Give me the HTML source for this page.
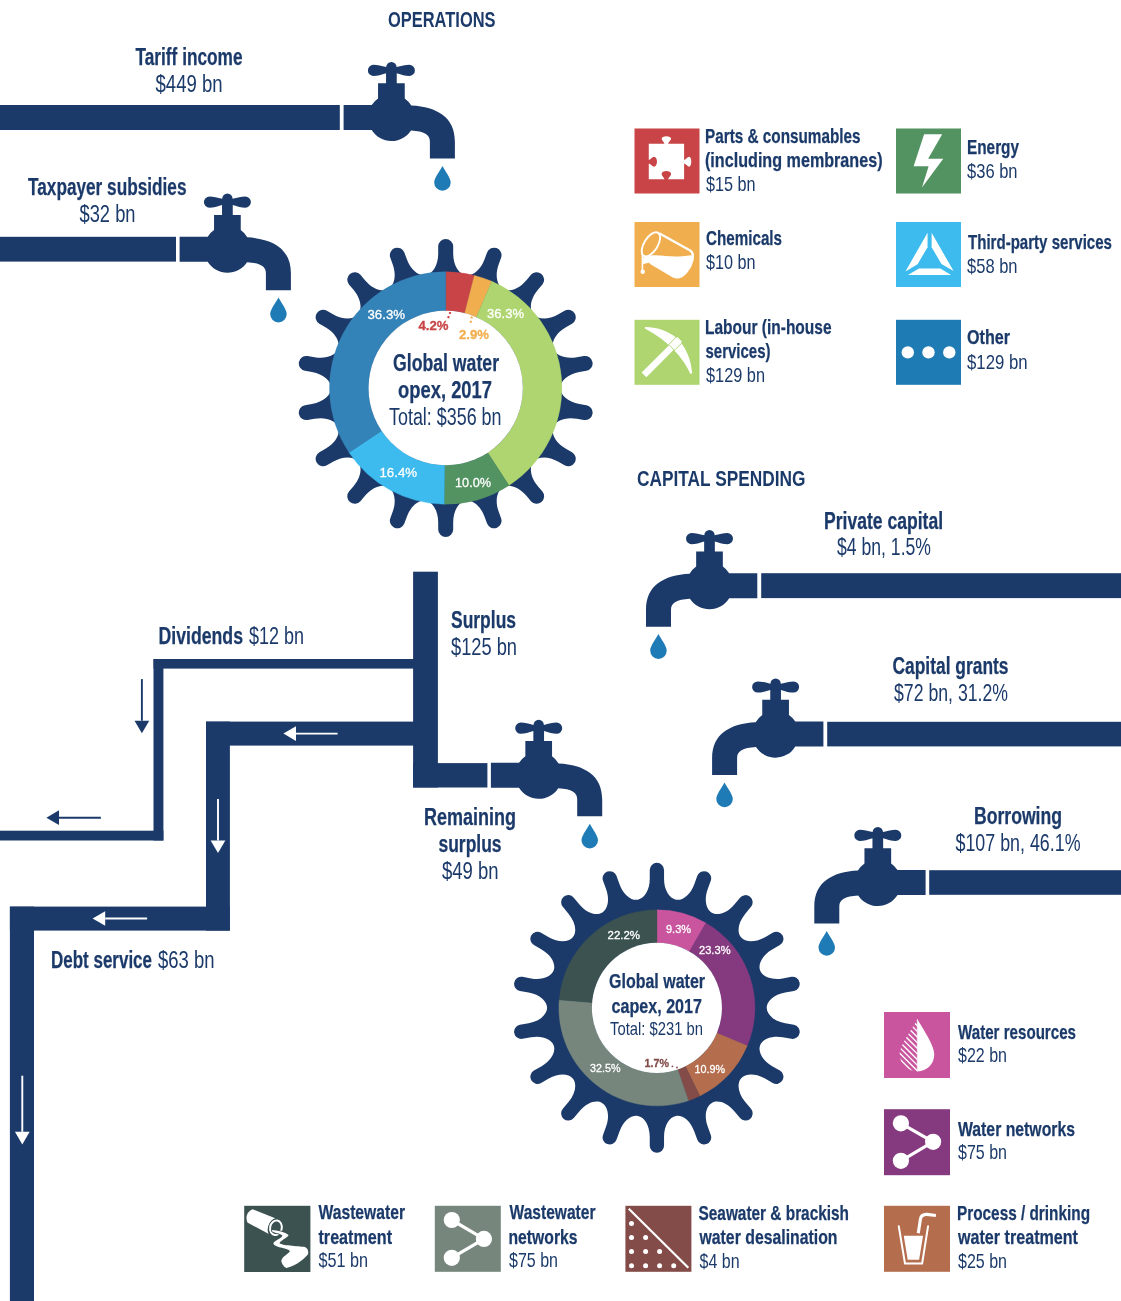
<!DOCTYPE html>
<html lang="en"><head><meta charset="utf-8"><title>Global water opex and capex, 2017</title>
<style>
html,body{margin:0;padding:0;background:#fff;}
body{width:1121px;height:1301px;overflow:hidden;}
svg{display:block;font-family:"Liberation Sans",sans-serif;will-change:transform;}
text{white-space:pre;}
</style></head><body>
<svg width="1121" height="1301" viewBox="0 0 1121 1301">
<rect width="1121" height="1301" fill="#fff"/>
<rect x="0" y="105" width="339.8" height="25" fill="#1b3a6a"/>
<rect x="0" y="236.8" width="176" height="24.8" fill="#1b3a6a"/>
<rect x="761.2" y="573.2" width="360" height="24.9" fill="#1b3a6a"/>
<rect x="827.2" y="721.8" width="294" height="24.6" fill="#1b3a6a"/>
<rect x="929.2" y="870.2" width="192" height="24.6" fill="#1b3a6a"/>
<rect x="413.1" y="571.7" width="24.8" height="215.8" fill="#1b3a6a"/>
<rect x="413.1" y="763.1" width="74.3" height="24.4" fill="#1b3a6a"/>
<rect x="153.5" y="659" width="262" height="9.6" fill="#1b3a6a"/>
<rect x="153.5" y="659" width="9.9" height="181.5" fill="#1b3a6a"/>
<rect x="0" y="830.7" width="163.4" height="9.8" fill="#1b3a6a"/>
<rect x="206" y="721.6" width="209" height="24" fill="#1b3a6a"/>
<rect x="206" y="721.6" width="23.9" height="209" fill="#1b3a6a"/>
<rect x="9.9" y="906.6" width="219.9" height="24" fill="#1b3a6a"/>
<rect x="9.9" y="906.6" width="24.1" height="400" fill="#1b3a6a"/>
<path d="M141.9,679.1L141.9,720.7" stroke="#1b3a6a" stroke-width="1.9" fill="none"/>
<path d="M141.9,733.3L134.55,720.7L149.25,720.7Z" fill="#1b3a6a"/>
<path d="M100.9,817.7L59,817.7" stroke="#1b3a6a" stroke-width="1.9" fill="none"/>
<path d="M46.4,817.7L59,810.35L59,825.05Z" fill="#1b3a6a"/>
<path d="M218,799L218,840.4" stroke="#fff" stroke-width="1.9" fill="none"/>
<path d="M218,853L210.65,840.4L225.35,840.4Z" fill="#fff"/>
<path d="M337.6,733.6L296,733.6" stroke="#fff" stroke-width="1.9" fill="none"/>
<path d="M283.4,733.6L296,726.25L296,740.95Z" fill="#fff"/>
<path d="M147.1,918.5L105.2,918.5" stroke="#fff" stroke-width="1.9" fill="none"/>
<path d="M92.6,918.5L105.2,911.15L105.2,925.85Z" fill="#fff"/>
<path d="M22.3,1075.7L22.3,1131.8" stroke="#fff" stroke-width="1.9" fill="none"/>
<path d="M22.3,1144.4L14.95,1131.8L29.65,1131.8Z" fill="#fff"/>
<g transform="translate(391.4,117.5)"><path d="M-47.8,-12.5 L-19.7,-12.5 A23.3,23.3 0 0 1 -13.35,-19.1 L-13.35,-34.3 L-5.35,-34.3 L-5.35,-44.2 C-10,-42.7 -14,-41.5 -17.9,-41.5 A5.6,5.6 0 0 1 -17.9,-52.7 C-14,-52.7 -10,-51.4 -5.2,-50.4 A5.2,5.2 0 0 1 5.2,-50.4 C10,-51.4 14,-52.7 17.9,-52.7 A5.6,5.6 0 0 1 17.9,-41.5 C14,-41.5 10,-42.7 5.35,-44.2 L5.35,-34.3 L13.35,-34.3 L13.35,-19.1 A23.3,23.3 0 0 1 19.9,-11.9 C46,-10.5 63.5,0 63.5,24 L63.5,41 L38.5,41 L38.5,24 C38.5,17 33,13.8 19.6,13.0 A23.3,23.3 0 0 1 -19.7,12.5 L-47.8,12.5 Z" fill="#1b3a6a"/><path d="M51.1,48.4 C54.3,54.5 59.3,60.4 59.3,64.9 A8.25,8.3 0 1 1 42.8,64.9 C42.8,60.4 47.8,54.5 51.1,48.4 Z" fill="#1f7bb5"/></g>
<g transform="translate(227.4,249.2)"><path d="M-47.8,-12.5 L-19.7,-12.5 A23.3,23.3 0 0 1 -13.35,-19.1 L-13.35,-34.3 L-5.35,-34.3 L-5.35,-44.2 C-10,-42.7 -14,-41.5 -17.9,-41.5 A5.6,5.6 0 0 1 -17.9,-52.7 C-14,-52.7 -10,-51.4 -5.2,-50.4 A5.2,5.2 0 0 1 5.2,-50.4 C10,-51.4 14,-52.7 17.9,-52.7 A5.6,5.6 0 0 1 17.9,-41.5 C14,-41.5 10,-42.7 5.35,-44.2 L5.35,-34.3 L13.35,-34.3 L13.35,-19.1 A23.3,23.3 0 0 1 19.9,-11.9 C46,-10.5 63.5,0 63.5,24 L63.5,41 L38.5,41 L38.5,24 C38.5,17 33,13.8 19.6,13.0 A23.3,23.3 0 0 1 -19.7,12.5 L-47.8,12.5 Z" fill="#1b3a6a"/><path d="M51.1,48.4 C54.3,54.5 59.3,60.4 59.3,64.9 A8.25,8.3 0 1 1 42.8,64.9 C42.8,60.4 47.8,54.5 51.1,48.4 Z" fill="#1f7bb5"/></g>
<g transform="translate(538.7,775.3)"><path d="M-47.8,-12.5 L-19.7,-12.5 A23.3,23.3 0 0 1 -13.35,-19.1 L-13.35,-34.3 L-5.35,-34.3 L-5.35,-44.2 C-10,-42.7 -14,-41.5 -17.9,-41.5 A5.6,5.6 0 0 1 -17.9,-52.7 C-14,-52.7 -10,-51.4 -5.2,-50.4 A5.2,5.2 0 0 1 5.2,-50.4 C10,-51.4 14,-52.7 17.9,-52.7 A5.6,5.6 0 0 1 17.9,-41.5 C14,-41.5 10,-42.7 5.35,-44.2 L5.35,-34.3 L13.35,-34.3 L13.35,-19.1 A23.3,23.3 0 0 1 19.9,-11.9 C46,-10.5 63.5,0 63.5,24 L63.5,41 L38.5,41 L38.5,24 C38.5,17 33,13.8 19.6,13.0 A23.3,23.3 0 0 1 -19.7,12.5 L-47.8,12.5 Z" fill="#1b3a6a"/><path d="M51.1,48.4 C54.3,54.5 59.3,60.4 59.3,64.9 A8.25,8.3 0 1 1 42.8,64.9 C42.8,60.4 47.8,54.5 51.1,48.4 Z" fill="#1f7bb5"/></g>
<g transform="translate(709.5,585.7) scale(-1,1)"><path d="M-47.8,-12.5 L-19.7,-12.5 A23.3,23.3 0 0 1 -13.35,-19.1 L-13.35,-34.3 L-5.35,-34.3 L-5.35,-44.2 C-10,-42.7 -14,-41.5 -17.9,-41.5 A5.6,5.6 0 0 1 -17.9,-52.7 C-14,-52.7 -10,-51.4 -5.2,-50.4 A5.2,5.2 0 0 1 5.2,-50.4 C10,-51.4 14,-52.7 17.9,-52.7 A5.6,5.6 0 0 1 17.9,-41.5 C14,-41.5 10,-42.7 5.35,-44.2 L5.35,-34.3 L13.35,-34.3 L13.35,-19.1 A23.3,23.3 0 0 1 19.9,-11.9 C46,-10.5 63.5,0 63.5,24 L63.5,41 L38.5,41 L38.5,24 C38.5,17 33,13.8 19.6,13.0 A23.3,23.3 0 0 1 -19.7,12.5 L-47.8,12.5 Z" fill="#1b3a6a"/><path d="M51.1,48.4 C54.3,54.5 59.3,60.4 59.3,64.9 A8.25,8.3 0 1 1 42.8,64.9 C42.8,60.4 47.8,54.5 51.1,48.4 Z" fill="#1f7bb5"/></g>
<g transform="translate(775.6,734.1) scale(-1,1)"><path d="M-47.8,-12.5 L-19.7,-12.5 A23.3,23.3 0 0 1 -13.35,-19.1 L-13.35,-34.3 L-5.35,-34.3 L-5.35,-44.2 C-10,-42.7 -14,-41.5 -17.9,-41.5 A5.6,5.6 0 0 1 -17.9,-52.7 C-14,-52.7 -10,-51.4 -5.2,-50.4 A5.2,5.2 0 0 1 5.2,-50.4 C10,-51.4 14,-52.7 17.9,-52.7 A5.6,5.6 0 0 1 17.9,-41.5 C14,-41.5 10,-42.7 5.35,-44.2 L5.35,-34.3 L13.35,-34.3 L13.35,-19.1 A23.3,23.3 0 0 1 19.9,-11.9 C46,-10.5 63.5,0 63.5,24 L63.5,41 L38.5,41 L38.5,24 C38.5,17 33,13.8 19.6,13.0 A23.3,23.3 0 0 1 -19.7,12.5 L-47.8,12.5 Z" fill="#1b3a6a"/><path d="M51.1,48.4 C54.3,54.5 59.3,60.4 59.3,64.9 A8.25,8.3 0 1 1 42.8,64.9 C42.8,60.4 47.8,54.5 51.1,48.4 Z" fill="#1f7bb5"/></g>
<g transform="translate(877.8,882.5) scale(-1,1)"><path d="M-47.8,-12.5 L-19.7,-12.5 A23.3,23.3 0 0 1 -13.35,-19.1 L-13.35,-34.3 L-5.35,-34.3 L-5.35,-44.2 C-10,-42.7 -14,-41.5 -17.9,-41.5 A5.6,5.6 0 0 1 -17.9,-52.7 C-14,-52.7 -10,-51.4 -5.2,-50.4 A5.2,5.2 0 0 1 5.2,-50.4 C10,-51.4 14,-52.7 17.9,-52.7 A5.6,5.6 0 0 1 17.9,-41.5 C14,-41.5 10,-42.7 5.35,-44.2 L5.35,-34.3 L13.35,-34.3 L13.35,-19.1 A23.3,23.3 0 0 1 19.9,-11.9 C46,-10.5 63.5,0 63.5,24 L63.5,41 L38.5,41 L38.5,24 C38.5,17 33,13.8 19.6,13.0 A23.3,23.3 0 0 1 -19.7,12.5 L-47.8,12.5 Z" fill="#1b3a6a"/><path d="M51.1,48.4 C54.3,54.5 59.3,60.4 59.3,64.9 A8.25,8.3 0 1 1 42.8,64.9 C42.8,60.4 47.8,54.5 51.1,48.4 Z" fill="#1f7bb5"/></g>
<path d="M425.82,275.24C432.55,274.05 438.2,265.51 438.2,253.5L438.2,246.45A7.5,7.5 0 0 1 453.2,246.45L453.2,253.5C453.2,265.51 458.85,274.05 465.58,275.24C472.32,276.43 480.55,270.33 484.65,259.05L487.07,252.42A7.5,7.5 0 0 1 501.16,257.55L498.75,264.18C494.64,275.46 497.03,285.42 502.95,288.84C508.87,292.26 518.69,289.34 526.41,280.15L530.94,274.75A7.5,7.5 0 0 1 542.43,284.39L537.9,289.79C530.18,298.99 529.02,309.16 533.41,314.4C537.81,319.64 548.03,320.26 558.43,314.25L564.54,310.73A7.5,7.5 0 0 1 572.04,323.72L565.93,327.25C555.53,333.25 550.96,342.41 553.29,348.84C555.63,355.27 565.03,359.34 576.85,357.26L583.8,356.03A7.5,7.5 0 0 1 586.4,370.81L579.46,372.03C567.63,374.12 560.2,381.16 560.2,388C560.2,394.84 567.63,401.88 579.46,403.97L586.4,405.19A7.5,7.5 0 0 1 583.8,419.97L576.85,418.74C565.03,416.66 555.63,420.73 553.29,427.16C550.96,433.59 555.53,442.75 565.93,448.75L572.04,452.28A7.5,7.5 0 0 1 564.54,465.27L558.43,461.75C548.03,455.74 537.81,456.36 533.41,461.6C529.02,466.84 530.18,477.01 537.9,486.21L542.43,491.61A7.5,7.5 0 0 1 530.94,501.25L526.41,495.85C518.69,486.66 508.87,483.74 502.95,487.16C497.03,490.58 494.64,500.54 498.75,511.82L501.16,518.45A7.5,7.5 0 0 1 487.07,523.58L484.65,516.95C480.55,505.67 472.32,499.57 465.58,500.76C458.85,501.95 453.2,510.49 453.2,522.5L453.2,529.55A7.5,7.5 0 0 1 438.2,529.55L438.2,522.5C438.2,510.49 432.55,501.95 425.82,500.76C419.08,499.57 410.85,505.67 406.75,516.95L404.33,523.58A7.5,7.5 0 0 1 390.24,518.45L392.65,511.82C396.76,500.54 394.37,490.58 388.45,487.16C382.53,483.74 372.71,486.66 364.99,495.85L360.46,501.25A7.5,7.5 0 0 1 348.97,491.61L353.5,486.21C361.22,477.01 362.38,466.84 357.99,461.6C353.59,456.36 343.37,455.74 332.97,461.75L326.86,465.27A7.5,7.5 0 0 1 319.36,452.28L325.47,448.75C335.87,442.75 340.44,433.59 338.11,427.16C335.77,420.73 326.37,416.66 314.55,418.74L307.6,419.97A7.5,7.5 0 0 1 305,405.19L311.94,403.97C323.77,401.88 331.2,394.84 331.2,388C331.2,381.16 323.77,374.12 311.94,372.03L305,370.81A7.5,7.5 0 0 1 307.6,356.03L314.55,357.26C326.37,359.34 335.77,355.27 338.11,348.84C340.44,342.41 335.87,333.25 325.47,327.25L319.36,323.72A7.5,7.5 0 0 1 326.86,310.73L332.97,314.25C343.37,320.26 353.59,319.64 357.99,314.4C362.38,309.16 361.22,298.99 353.5,289.79L348.97,284.39A7.5,7.5 0 0 1 360.46,274.75L364.99,280.15C372.71,289.34 382.53,292.26 388.45,288.84C394.37,285.42 396.76,275.46 392.65,264.18L390.24,257.55A7.5,7.5 0 0 1 404.33,252.42L406.75,259.05C410.85,270.33 419.08,276.43 425.82,275.24Z" fill="#1b3a6a"/>
<path d="M445.7,271.8A116.2,116.2 0 0 1 474.4,275.4L464.76,313.24A77.15,77.15 0 0 0 445.7,310.85Z" fill="#c84446" stroke="#c84446" stroke-width="0.4"/>
<path d="M474.4,275.4A116.2,116.2 0 0 1 491.85,281.36L476.34,317.2A77.15,77.15 0 0 0 464.76,313.24Z" fill="#f1ae4e" stroke="#f1ae4e" stroke-width="0.4"/>
<path d="M491.85,281.36A116.2,116.2 0 0 1 508.99,485.45L487.72,452.7A77.15,77.15 0 0 0 476.34,317.2Z" fill="#aed570" stroke="#aed570" stroke-width="0.4"/>
<path d="M508.99,485.45A116.2,116.2 0 0 1 444.08,504.19L444.62,465.14A77.15,77.15 0 0 0 487.72,452.7Z" fill="#539362" stroke="#539362" stroke-width="0.4"/>
<path d="M444.08,504.19A116.2,116.2 0 0 1 349.03,452.47L381.51,430.81A77.15,77.15 0 0 0 444.62,465.14Z" fill="#3dbbee" stroke="#3dbbee" stroke-width="0.4"/>
<path d="M349.03,452.47A116.2,116.2 0 0 1 445.7,271.8L445.7,310.85A77.15,77.15 0 0 0 381.51,430.81Z" fill="#3483b8" stroke="#3483b8" stroke-width="0.4"/>
<circle cx="445.7" cy="388" r="77.15" fill="#fff"/>
<path d="M637.83,899.72C644.31,898.58 649.75,890.38 649.75,878.85L649.75,870A7.15,7.15 0 0 1 664.05,870L664.05,878.85C664.05,890.38 669.49,898.58 675.97,899.72C682.45,900.86 690.36,895.01 694.3,884.18L697.33,875.87A7.15,7.15 0 0 1 710.77,880.76L707.74,889.08C703.8,899.91 706.1,909.47 711.8,912.76C717.5,916.05 726.93,913.26 734.34,904.43L740.03,897.65A7.15,7.15 0 0 1 750.99,906.85L745.3,913.63C737.89,922.46 736.78,932.23 741.01,937.27C745.24,942.31 755.06,942.92 765.04,937.16L772.71,932.73A7.15,7.15 0 0 1 779.86,945.12L772.19,949.54C762.21,955.3 757.83,964.11 760.08,970.3C762.33,976.48 771.35,980.41 782.7,978.41L791.41,976.87A7.15,7.15 0 0 1 793.9,990.95L785.18,992.49C773.83,994.49 766.7,1001.27 766.7,1007.85C766.7,1014.43 773.83,1021.21 785.18,1023.21L793.9,1024.75A7.15,7.15 0 0 1 791.41,1038.83L782.7,1037.29C771.35,1035.29 762.33,1039.22 760.08,1045.4C757.83,1051.59 762.21,1060.4 772.19,1066.16L779.86,1070.58A7.15,7.15 0 0 1 772.71,1082.97L765.04,1078.54C755.06,1072.78 745.24,1073.39 741.01,1078.43C736.78,1083.47 737.89,1093.24 745.3,1102.07L750.99,1108.85A7.15,7.15 0 0 1 740.03,1118.05L734.34,1111.27C726.93,1102.44 717.5,1099.65 711.8,1102.94C706.1,1106.23 703.8,1115.79 707.74,1126.62L710.77,1134.94A7.15,7.15 0 0 1 697.33,1139.83L694.3,1131.52C690.36,1120.69 682.45,1114.84 675.97,1115.98C669.49,1117.12 664.05,1125.32 664.05,1136.85L664.05,1145.7A7.15,7.15 0 0 1 649.75,1145.7L649.75,1136.85C649.75,1125.32 644.31,1117.12 637.83,1115.98C631.35,1114.84 623.44,1120.69 619.5,1131.52L616.47,1139.83A7.15,7.15 0 0 1 603.03,1134.94L606.06,1126.62C610,1115.79 607.7,1106.23 602,1102.94C596.3,1099.65 586.87,1102.44 579.46,1111.27L573.77,1118.05A7.15,7.15 0 0 1 562.81,1108.85L568.5,1102.07C575.91,1093.24 577.02,1083.47 572.79,1078.43C568.56,1073.39 558.74,1072.78 548.76,1078.54L541.09,1082.97A7.15,7.15 0 0 1 533.94,1070.58L541.61,1066.16C551.59,1060.4 555.97,1051.59 553.72,1045.4C551.47,1039.22 542.45,1035.29 531.1,1037.29L522.39,1038.83A7.15,7.15 0 0 1 519.9,1024.75L528.62,1023.21C539.97,1021.21 547.1,1014.43 547.1,1007.85C547.1,1001.27 539.97,994.49 528.62,992.49L519.9,990.95A7.15,7.15 0 0 1 522.39,976.87L531.1,978.41C542.45,980.41 551.47,976.48 553.72,970.3C555.97,964.11 551.59,955.3 541.61,949.54L533.94,945.12A7.15,7.15 0 0 1 541.09,932.73L548.76,937.16C558.74,942.92 568.56,942.31 572.79,937.27C577.02,932.23 575.91,922.46 568.5,913.63L562.81,906.85A7.15,7.15 0 0 1 573.77,897.65L579.46,904.43C586.87,913.26 596.3,916.05 602,912.76C607.7,909.47 610,899.91 606.06,889.08L603.03,880.76A7.15,7.15 0 0 1 616.47,875.87L619.5,884.18C623.44,895.01 631.35,900.86 637.83,899.72Z" fill="#1b3a6a"/>
<path d="M656.9,909.85A98,98 0 0 1 705.97,923.02L689.47,951.54A65.05,65.05 0 0 0 656.9,942.8Z" fill="#c9559e" stroke="#c9559e" stroke-width="0.4"/>
<path d="M705.97,923.02A98,98 0 0 1 747.24,1045.83L716.87,1033.06A65.05,65.05 0 0 0 689.47,951.54Z" fill="#853a80" stroke="#853a80" stroke-width="0.4"/>
<path d="M747.24,1045.83A98,98 0 0 1 699.78,1095.97L685.37,1066.34A65.05,65.05 0 0 0 716.87,1033.06Z" fill="#b46e4e" stroke="#b46e4e" stroke-width="0.4"/>
<path d="M699.78,1095.97A98,98 0 0 1 688.32,1100.68L677.76,1069.47A65.05,65.05 0 0 0 685.37,1066.34Z" fill="#834c49" stroke="#834c49" stroke-width="0.4"/>
<path d="M688.32,1100.68A98,98 0 0 1 559.23,999.82L592.07,1002.52A65.05,65.05 0 0 0 677.76,1069.47Z" fill="#76867c" stroke="#76867c" stroke-width="0.4"/>
<path d="M559.23,999.82A98,98 0 0 1 656.9,909.85L656.9,942.8A65.05,65.05 0 0 0 592.07,1002.52Z" fill="#3b5251" stroke="#3b5251" stroke-width="0.4"/>
<circle cx="656.9" cy="1007.85" r="65.05" fill="#fff"/>
<path d="M450.3,312 L447.8,319" stroke="#c84446" stroke-width="2.1" stroke-dasharray="2 2.4" fill="none"/>
<path d="M471.8,316.5 L470.4,323.5" stroke="#f1ae4e" stroke-width="2.1" stroke-dasharray="2 2.4" fill="none"/>
<circle cx="672.4" cy="1066.3" r="0.9" fill="#834c49"/><circle cx="677" cy="1067.5" r="0.9" fill="#834c49"/>
<g transform="translate(634.5,128.5)"><rect width="65" height="65" fill="#c84446"/><path d="M14.28,15.35 L29.98,15.35 C29.26,13.2 27.12,11.78 27.12,10.35 C27.12,8.57 29.26,7.64 31.76,7.64 C34.26,7.64 36.62,8.57 36.62,10.35 C36.62,11.78 34.26,13.2 33.55,15.35 L49.61,15.35 L49.61,31.41 C51.75,30.69 53.18,28.19 54.6,28.19 C56.03,28.19 56.75,30.69 56.75,33.05 C56.75,35.69 56.03,38.19 54.6,38.19 C53.18,38.19 51.75,35.69 49.61,34.98 L49.61,50.68 L33.55,50.68 C34.26,48.54 36.62,47.11 36.62,45.47 C36.62,43.75 34.26,42.47 31.76,42.47 C29.26,42.47 27.12,43.75 27.12,45.47 C27.12,47.11 29.26,48.54 29.98,50.68 L14.28,50.68 L14.28,34.98 C16.42,35.69 17.84,38.19 19.49,38.19 C21.41,38.19 22.48,35.69 22.48,33.05 C22.48,30.69 21.41,28.19 19.49,28.19 C17.84,28.19 16.42,30.69 14.28,31.41 Z" fill="#fff"/></g>
<g transform="translate(634.5,222)"><rect width="65" height="65" fill="#f1ae4e"/><ellipse cx="16.42" cy="22.34" rx="13.56" ry="6.78" transform="rotate(-58 16.42 22.34)" fill="none" stroke="#fff" stroke-width="1.9"/><path d="M24.63,11.13 L55.67,28.55 C58.53,30.34 58.89,34.12 57.82,38.4 C56.03,46.25 48.89,55.53 42.47,55.39 C41.04,55.39 39.97,54.96 38.9,54.46 L15.35,40.54" fill="none" stroke="#fff" stroke-width="2.3" stroke-linejoin="round"/><path d="M8.57,35.55 C11.78,34.48 13.92,34.83 16.06,33.55 C24.63,32.33 35.33,36.4 56.75,33.26 C58.53,33.76 58.53,36.26 57.82,38.4 C56.03,46.25 48.89,55.53 42.47,55.39 C41.04,55.39 39.97,54.96 38.9,54.46 L15.35,40.54 C13.2,41.26 10.35,41.26 8.57,42.33 Z" fill="#fff"/><path d="M7.92,31.98 L7.92,48.39" stroke="#fff" stroke-width="1.6" fill="none"/><circle cx="8.21" cy="49.68" r="2.2" fill="#fff"/></g>
<g transform="translate(634.5,319.8)"><rect width="65" height="65" fill="#aed570"/><path d="M7.14,52.82 L42.83,17.13 L47.47,21.77 L11.92,57.46 Z" fill="#fff"/><path d="M10.35,7.28 C22.48,7.28 32.83,11.28 42.11,17.84 C50.68,26.41 56.75,38.54 57.6,53.53 L56.03,54.1 C51.75,44.97 46.75,37.83 39.61,30.34 C32.48,22.84 22.48,14.99 10.35,8.71 Z" fill="#fff"/><path d="M34.26,24.63 L41.76,17.13 M39.61,30.69 L47.11,23.55 M34.26,24.63 L39.97,30.69" stroke="#aed570" stroke-width="0.9" fill="none"/></g>
<g transform="translate(896,128.5)"><rect width="65" height="65" fill="#539362"/><polygon points="28.12,5.85 46.18,5.85 32.12,30.26 47.25,30.26 25.98,59.03 32.62,37.76 17.63,37.76" fill="#fff"/></g>
<g transform="translate(896,222)"><rect width="65" height="65" fill="#3dbbee"/><polygon points="31.55,10.71 31.55,25.2 21.56,42.33 9.42,49.46" fill="#fff"/><polygon points="35.62,10.71 57.6,49.11 45.47,41.97 35.62,25.2" fill="#fff"/><polygon points="11.92,52.89 55.1,52.89 44.4,46.61 22.98,46.61" fill="#fff"/></g>
<g transform="translate(896,319.8)"><rect width="65" height="65" fill="#1f7bb4"/><circle cx="11.8" cy="32.6" r="6.2" fill="#fff"/><circle cx="32.5" cy="32.6" r="6.2" fill="#fff"/><circle cx="53.3" cy="32.6" r="6.2" fill="#fff"/></g>
<g transform="translate(884,1012)"><rect width="66" height="66" fill="#c9559e"/><defs><clipPath id="dl"><path d="M33.33,6.92 C28.69,16.56 15.7,32.98 15.7,42.26 C15.7,52.25 23.7,59.39 33.33,59.39 Z"/></clipPath></defs><path d="M33.33,6.92 C38.69,16.56 50.25,32.98 50.25,42.26 C50.25,52.25 42.97,59.39 33.33,59.39 Z" fill="#fff"/><g clip-path="url(#dl)" stroke="#fff" stroke-width="1.35"><path d="M4.78,-42.97 L35.83,-11.92"/><path d="M4.78,-37.33 L35.83,-6.28"/><path d="M4.78,-31.69 L35.83,-0.64"/><path d="M4.78,-26.05 L35.83,5"/><path d="M4.78,-20.41 L35.83,10.64"/><path d="M4.78,-14.78 L35.83,16.27"/><path d="M4.78,-9.14 L35.83,21.91"/><path d="M4.78,-3.5 L35.83,27.55"/><path d="M4.78,2.14 L35.83,33.19"/><path d="M4.78,7.78 L35.83,38.83"/><path d="M4.78,13.42 L35.83,44.47"/><path d="M4.78,19.06 L35.83,50.11"/><path d="M4.78,24.7 L35.83,55.75"/><path d="M4.78,30.34 L35.83,61.38"/><path d="M4.78,35.97 L35.83,67.02"/><path d="M4.78,41.61 L35.83,72.66"/><path d="M4.78,47.25 L35.83,78.3"/><path d="M4.78,52.89 L35.83,83.94"/></g><path d="M33.33,7.28 L33.33,59.39" stroke="#fff" stroke-width="0.6"/></g>
<g transform="translate(884,1109.2)"><rect width="66" height="66" fill="#853a80"/><path d="M16.9,14.1 L49.1,32.6 L16.9,51.6" stroke="#fff" stroke-width="3.2" fill="none"/><circle cx="16.9" cy="14.1" r="8.1" fill="#fff"/><circle cx="49.1" cy="32.6" r="8.1" fill="#fff"/><circle cx="16.9" cy="51.6" r="8.1" fill="#fff"/></g>
<g transform="translate(884,1205.8)"><rect width="66" height="66" fill="#b46e4e"/><path d="M14.78,20.56 L20.99,57.67 L38.12,57.67 L44.04,20.56" fill="none" stroke="#fff" stroke-width="2" stroke-linecap="round" stroke-linejoin="round"/><polygon points="19.77,29.98 39.04,29.98 35.12,53.89 23.7,53.89" fill="#fff"/><path d="M34.26,27.48 L36.4,13.56 C36.9,9.99 39.4,8.42 42.97,8.57 L51.89,9.64" fill="none" stroke="#fff" stroke-width="3.1"/></g>
<g transform="translate(244.2,1205.8)"><rect width="66.2" height="66.2" fill="#3b5251"/><path d="M8.57,3.57 L31.05,12.49 C27.84,13.56 24.27,17.84 23.55,22.84 C23.2,24.98 23.91,27.12 24.63,28.19 L3.21,16.77 C1.78,13.56 2.14,9.28 3.57,7.49 C5,5.35 7.14,3.93 8.57,3.57 Z" fill="#fff"/><ellipse cx="31.76" cy="21.98" rx="5.85" ry="7.35" transform="rotate(10 31.76 21.98)" fill="none" stroke="#3b5251" stroke-width="3.6"/><ellipse cx="31.76" cy="21.98" rx="5.85" ry="7.35" transform="rotate(10 31.76 21.98)" fill="none" stroke="#fff" stroke-width="2"/><clipPath id="pc"><rect x="26.41" y="22.84" width="14.28" height="8.21"/></clipPath><path d="M27.84,24.27 C32.83,24.63 41.4,26.41 44.25,29.26 C44.97,31.05 37.12,34.26 35.33,37.12 C35.69,39.26 49.96,39.97 59.96,41.04 C63.53,42.11 64.6,45.68 63.88,48.54 C57.1,56.39 49.25,60.67 42.11,62.24 C39.26,60.67 37.12,57.82 37.12,54.96 C37.83,50.68 44.25,48.54 45.68,45.32 C44.25,42.11 31.41,42.11 29.26,38.19 C28.55,34.98 37.83,32.83 38.19,29.98 C37.47,27.84 29.98,27.12 28.19,25.7 C27.48,24.98 27.48,24.41 27.84,24.27 Z" fill="none" stroke="#3b5251" stroke-width="1.5" clip-path="url(#pc)"/><path d="M27.84,24.27 C32.83,24.63 41.4,26.41 44.25,29.26 C44.97,31.05 37.12,34.26 35.33,37.12 C35.69,39.26 49.96,39.97 59.96,41.04 C63.53,42.11 64.6,45.68 63.88,48.54 C57.1,56.39 49.25,60.67 42.11,62.24 C39.26,60.67 37.12,57.82 37.12,54.96 C37.83,50.68 44.25,48.54 45.68,45.32 C44.25,42.11 31.41,42.11 29.26,38.19 C28.55,34.98 37.83,32.83 38.19,29.98 C37.47,27.84 29.98,27.12 28.19,25.7 C27.48,24.98 27.48,24.41 27.84,24.27 Z" fill="#fff"/></g>
<g transform="translate(434.8,1205.8)"><rect width="66" height="66" fill="#76867c"/><path d="M17,14.2 L49.1,33.1 L17,52" stroke="#fff" stroke-width="3.2" fill="none"/><circle cx="17" cy="14.2" r="8.1" fill="#fff"/><circle cx="49.1" cy="33.1" r="8.1" fill="#fff"/><circle cx="17" cy="52" r="8.1" fill="#fff"/></g>
<g transform="translate(625.4,1205.8)"><rect width="66" height="66" fill="#834c49"/><path d="M3.4,3 L62.9,61.9" stroke="#fff" stroke-width="2.2"/><circle cx="6.1" cy="17.7" r="2.5" fill="#fff"/><circle cx="6.1" cy="31.8" r="2.5" fill="#fff"/><circle cx="20.2" cy="31.8" r="2.5" fill="#fff"/><circle cx="6.1" cy="45.8" r="2.5" fill="#fff"/><circle cx="20.2" cy="45.8" r="2.5" fill="#fff"/><circle cx="34.2" cy="45.8" r="2.5" fill="#fff"/><circle cx="6.1" cy="59.9" r="2.5" fill="#fff"/><circle cx="20.2" cy="59.9" r="2.5" fill="#fff"/><circle cx="34.2" cy="59.9" r="2.5" fill="#fff"/><circle cx="48.3" cy="59.9" r="2.5" fill="#fff"/></g>
<text x="388" y="26.8" font-size="22.6" font-weight="700" fill="#1b3a6a" stroke="#1b3a6a" stroke-width="0" stroke-linejoin="round" textLength="107.52" lengthAdjust="spacingAndGlyphs">OPERATIONS</text>
<text x="135.5" y="65.4" font-size="23.1" font-weight="700" fill="#1b3a6a" stroke="#1b3a6a" stroke-width="0.25" stroke-linejoin="round" textLength="107.01" lengthAdjust="spacingAndGlyphs">Tariff income</text>
<text x="155.5" y="91.9" font-size="23.5" font-weight="400" fill="#1b3a6a" stroke="#1b3a6a" stroke-width="0" stroke-linejoin="round" textLength="67.04" lengthAdjust="spacingAndGlyphs">$449 bn</text>
<text x="28" y="194.7" font-size="23.1" font-weight="700" fill="#1b3a6a" stroke="#1b3a6a" stroke-width="0.25" stroke-linejoin="round" textLength="158.5" lengthAdjust="spacingAndGlyphs">Taxpayer subsidies</text>
<text x="79.5" y="221.7" font-size="23.5" font-weight="400" fill="#1b3a6a" stroke="#1b3a6a" stroke-width="0" stroke-linejoin="round" textLength="56.02" lengthAdjust="spacingAndGlyphs">$32 bn</text>
<text x="705" y="143.2" font-size="20.4" font-weight="700" fill="#1b3a6a" stroke="#1b3a6a" stroke-width="0.25" stroke-linejoin="round" textLength="155.52" lengthAdjust="spacingAndGlyphs">Parts &amp; consumables</text>
<text x="705" y="167" font-size="20.4" font-weight="700" fill="#1b3a6a" stroke="#1b3a6a" stroke-width="0.25" stroke-linejoin="round" textLength="177.51" lengthAdjust="spacingAndGlyphs">(including membranes)</text>
<text x="706" y="190.9" font-size="20.8" font-weight="400" fill="#1b3a6a" stroke="#1b3a6a" stroke-width="0" stroke-linejoin="round" textLength="49.55" lengthAdjust="spacingAndGlyphs">$15 bn</text>
<text x="706" y="244.9" font-size="20.4" font-weight="700" fill="#1b3a6a" stroke="#1b3a6a" stroke-width="0.25" stroke-linejoin="round" textLength="76.01" lengthAdjust="spacingAndGlyphs">Chemicals</text>
<text x="706" y="269.1" font-size="20.8" font-weight="400" fill="#1b3a6a" stroke="#1b3a6a" stroke-width="0" stroke-linejoin="round" textLength="49.55" lengthAdjust="spacingAndGlyphs">$10 bn</text>
<text x="705" y="334" font-size="20.4" font-weight="700" fill="#1b3a6a" stroke="#1b3a6a" stroke-width="0.25" stroke-linejoin="round" textLength="126.52" lengthAdjust="spacingAndGlyphs">Labour (in-house</text>
<text x="705.5" y="358" font-size="20.4" font-weight="700" fill="#1b3a6a" stroke="#1b3a6a" stroke-width="0.25" stroke-linejoin="round" textLength="65.02" lengthAdjust="spacingAndGlyphs">services)</text>
<text x="706" y="382" font-size="20.8" font-weight="400" fill="#1b3a6a" stroke="#1b3a6a" stroke-width="0" stroke-linejoin="round" textLength="59.02" lengthAdjust="spacingAndGlyphs">$129 bn</text>
<text x="967" y="154" font-size="20.4" font-weight="700" fill="#1b3a6a" stroke="#1b3a6a" stroke-width="0.25" stroke-linejoin="round" textLength="52.04" lengthAdjust="spacingAndGlyphs">Energy</text>
<text x="967" y="177.7" font-size="20.8" font-weight="400" fill="#1b3a6a" stroke="#1b3a6a" stroke-width="0" stroke-linejoin="round" textLength="50.53" lengthAdjust="spacingAndGlyphs">$36 bn</text>
<text x="968" y="248.7" font-size="20.4" font-weight="700" fill="#1b3a6a" stroke="#1b3a6a" stroke-width="0.25" stroke-linejoin="round" textLength="144" lengthAdjust="spacingAndGlyphs">Third-party services</text>
<text x="967" y="272.8" font-size="20.8" font-weight="400" fill="#1b3a6a" stroke="#1b3a6a" stroke-width="0" stroke-linejoin="round" textLength="50.53" lengthAdjust="spacingAndGlyphs">$58 bn</text>
<text x="967" y="344.4" font-size="20.4" font-weight="700" fill="#1b3a6a" stroke="#1b3a6a" stroke-width="0.25" stroke-linejoin="round" textLength="43.02" lengthAdjust="spacingAndGlyphs">Other</text>
<text x="967" y="368.5" font-size="20.8" font-weight="400" fill="#1b3a6a" stroke="#1b3a6a" stroke-width="0" stroke-linejoin="round" textLength="60.56" lengthAdjust="spacingAndGlyphs">$129 bn</text>
<text x="367.5" y="318.5" font-size="13.6" font-weight="400" fill="#fff" stroke="#fff" stroke-width="0.3" stroke-linejoin="round" textLength="37.52" lengthAdjust="spacingAndGlyphs">36.3%</text>
<text x="487" y="317.7" font-size="13.6" font-weight="400" fill="#fff" stroke="#fff" stroke-width="0.3" stroke-linejoin="round" textLength="37.02" lengthAdjust="spacingAndGlyphs">36.3%</text>
<text x="418.5" y="329.9" font-size="13.6" font-weight="700" fill="#c84446" stroke="#c84446" stroke-width="0.3" stroke-linejoin="round" textLength="30" lengthAdjust="spacingAndGlyphs">4.2%</text>
<text x="459" y="338.7" font-size="13.6" font-weight="700" fill="#f1ae4e" stroke="#f1ae4e" stroke-width="0.3" stroke-linejoin="round" textLength="30.02" lengthAdjust="spacingAndGlyphs">2.9%</text>
<text x="379.5" y="476.5" font-size="13.6" font-weight="400" fill="#fff" stroke="#fff" stroke-width="0.3" stroke-linejoin="round" textLength="37.58" lengthAdjust="spacingAndGlyphs">16.4%</text>
<text x="455" y="486.6" font-size="13.6" font-weight="400" fill="#fff" stroke="#fff" stroke-width="0.3" stroke-linejoin="round" textLength="36.02" lengthAdjust="spacingAndGlyphs">10.0%</text>
<text x="393" y="370.6" font-size="23.1" font-weight="700" fill="#1b3a6a" stroke="#1b3a6a" stroke-width="0.25" stroke-linejoin="round" textLength="106.01" lengthAdjust="spacingAndGlyphs">Global water</text>
<text x="398" y="397.7" font-size="23.1" font-weight="700" fill="#1b3a6a" stroke="#1b3a6a" stroke-width="0.25" stroke-linejoin="round" textLength="94.03" lengthAdjust="spacingAndGlyphs">opex, 2017</text>
<text x="389" y="424.5" font-size="23.5" font-weight="400" fill="#1b3a6a" stroke="#1b3a6a" stroke-width="0" stroke-linejoin="round" textLength="112.52" lengthAdjust="spacingAndGlyphs">Total: $356 bn</text>
<text x="637" y="485.8" font-size="22.6" font-weight="700" fill="#1b3a6a" stroke="#1b3a6a" stroke-width="0" stroke-linejoin="round" textLength="168.51" lengthAdjust="spacingAndGlyphs">CAPITAL SPENDING</text>
<text x="824" y="528.9" font-size="23.1" font-weight="700" fill="#1b3a6a" stroke="#1b3a6a" stroke-width="0.25" stroke-linejoin="round" textLength="119.02" lengthAdjust="spacingAndGlyphs">Private capital</text>
<text x="837" y="555.3" font-size="23.5" font-weight="400" fill="#1b3a6a" stroke="#1b3a6a" stroke-width="0" stroke-linejoin="round" textLength="94" lengthAdjust="spacingAndGlyphs">$4 bn, 1.5%</text>
<text x="892.5" y="674.2" font-size="23.1" font-weight="700" fill="#1b3a6a" stroke="#1b3a6a" stroke-width="0.25" stroke-linejoin="round" textLength="116.02" lengthAdjust="spacingAndGlyphs">Capital grants</text>
<text x="894" y="701" font-size="23.5" font-weight="400" fill="#1b3a6a" stroke="#1b3a6a" stroke-width="0" stroke-linejoin="round" textLength="114" lengthAdjust="spacingAndGlyphs">$72 bn, 31.2%</text>
<text x="974" y="824" font-size="23.1" font-weight="700" fill="#1b3a6a" stroke="#1b3a6a" stroke-width="0.25" stroke-linejoin="round" textLength="88.03" lengthAdjust="spacingAndGlyphs">Borrowing</text>
<text x="955.5" y="850.7" font-size="23.5" font-weight="400" fill="#1b3a6a" stroke="#1b3a6a" stroke-width="0" stroke-linejoin="round" textLength="125" lengthAdjust="spacingAndGlyphs">$107 bn, 46.1%</text>
<text x="158.5" y="643.9" font-size="23.1" font-weight="700" fill="#1b3a6a" stroke="#1b3a6a" stroke-width="0.25" stroke-linejoin="round" textLength="84.52" lengthAdjust="spacingAndGlyphs">Dividends</text>
<text x="249" y="643.9" font-size="23.5" font-weight="400" fill="#1b3a6a" stroke="#1b3a6a" stroke-width="0" stroke-linejoin="round" textLength="55.03" lengthAdjust="spacingAndGlyphs">$12 bn</text>
<text x="451" y="627.5" font-size="23.1" font-weight="700" fill="#1b3a6a" stroke="#1b3a6a" stroke-width="0.25" stroke-linejoin="round" textLength="65.03" lengthAdjust="spacingAndGlyphs">Surplus</text>
<text x="451" y="655" font-size="23.5" font-weight="400" fill="#1b3a6a" stroke="#1b3a6a" stroke-width="0" stroke-linejoin="round" textLength="66.03" lengthAdjust="spacingAndGlyphs">$125 bn</text>
<text x="424" y="825" font-size="23.1" font-weight="700" fill="#1b3a6a" stroke="#1b3a6a" stroke-width="0.25" stroke-linejoin="round" textLength="92.05" lengthAdjust="spacingAndGlyphs">Remaining</text>
<text x="438.5" y="851.8" font-size="23.1" font-weight="700" fill="#1b3a6a" stroke="#1b3a6a" stroke-width="0.25" stroke-linejoin="round" textLength="63.02" lengthAdjust="spacingAndGlyphs">surplus</text>
<text x="442" y="878.6" font-size="23.5" font-weight="400" fill="#1b3a6a" stroke="#1b3a6a" stroke-width="0" stroke-linejoin="round" textLength="56.56" lengthAdjust="spacingAndGlyphs">$49 bn</text>
<text x="51" y="967.8" font-size="23.1" font-weight="700" fill="#1b3a6a" stroke="#1b3a6a" stroke-width="0.25" stroke-linejoin="round" textLength="101.01" lengthAdjust="spacingAndGlyphs">Debt service</text>
<text x="158" y="967.8" font-size="23.5" font-weight="400" fill="#1b3a6a" stroke="#1b3a6a" stroke-width="0" stroke-linejoin="round" textLength="56.57" lengthAdjust="spacingAndGlyphs">$63 bn</text>
<text x="607.5" y="939" font-size="11.6" font-weight="400" fill="#fff" stroke="#fff" stroke-width="0.3" stroke-linejoin="round" textLength="32.56" lengthAdjust="spacingAndGlyphs">22.2%</text>
<text x="666" y="933" font-size="11.6" font-weight="400" fill="#fff" stroke="#fff" stroke-width="0.3" stroke-linejoin="round" textLength="25.02" lengthAdjust="spacingAndGlyphs">9.3%</text>
<text x="699" y="954" font-size="11.6" font-weight="400" fill="#fff" stroke="#fff" stroke-width="0.3" stroke-linejoin="round" textLength="31.51" lengthAdjust="spacingAndGlyphs">23.3%</text>
<text x="590" y="1072" font-size="11.6" font-weight="400" fill="#fff" stroke="#fff" stroke-width="0.3" stroke-linejoin="round" textLength="30.5" lengthAdjust="spacingAndGlyphs">32.5%</text>
<text x="644.5" y="1066.7" font-size="11.6" font-weight="700" fill="#834c49" stroke="#834c49" stroke-width="0.3" stroke-linejoin="round" textLength="24.52" lengthAdjust="spacingAndGlyphs">1.7%</text>
<text x="694.5" y="1073.1" font-size="11.6" font-weight="400" fill="#fff" stroke="#fff" stroke-width="0.3" stroke-linejoin="round" textLength="30.52" lengthAdjust="spacingAndGlyphs">10.9%</text>
<text x="609" y="988.3" font-size="19.8" font-weight="700" fill="#1b3a6a" stroke="#1b3a6a" stroke-width="0.25" stroke-linejoin="round" textLength="96.01" lengthAdjust="spacingAndGlyphs">Global water</text>
<text x="611.5" y="1013" font-size="19.8" font-weight="700" fill="#1b3a6a" stroke="#1b3a6a" stroke-width="0.25" stroke-linejoin="round" textLength="90.51" lengthAdjust="spacingAndGlyphs">capex, 2017</text>
<text x="610" y="1035" font-size="19" font-weight="400" fill="#1b3a6a" stroke="#1b3a6a" stroke-width="0" stroke-linejoin="round" textLength="93.02" lengthAdjust="spacingAndGlyphs">Total: $231 bn</text>
<text x="958" y="1038.7" font-size="20.4" font-weight="700" fill="#1b3a6a" stroke="#1b3a6a" stroke-width="0.25" stroke-linejoin="round" textLength="118" lengthAdjust="spacingAndGlyphs">Water resources</text>
<text x="958" y="1062" font-size="20.8" font-weight="400" fill="#1b3a6a" stroke="#1b3a6a" stroke-width="0" stroke-linejoin="round" textLength="49.01" lengthAdjust="spacingAndGlyphs">$22 bn</text>
<text x="958" y="1135.9" font-size="20.4" font-weight="700" fill="#1b3a6a" stroke="#1b3a6a" stroke-width="0.25" stroke-linejoin="round" textLength="117.01" lengthAdjust="spacingAndGlyphs">Water networks</text>
<text x="958" y="1159.4" font-size="20.8" font-weight="400" fill="#1b3a6a" stroke="#1b3a6a" stroke-width="0" stroke-linejoin="round" textLength="49.01" lengthAdjust="spacingAndGlyphs">$75 bn</text>
<text x="957" y="1219.8" font-size="20.4" font-weight="700" fill="#1b3a6a" stroke="#1b3a6a" stroke-width="0.25" stroke-linejoin="round" textLength="133.02" lengthAdjust="spacingAndGlyphs">Process / drinking</text>
<text x="958" y="1244" font-size="20.4" font-weight="700" fill="#1b3a6a" stroke="#1b3a6a" stroke-width="0.25" stroke-linejoin="round" textLength="120" lengthAdjust="spacingAndGlyphs">water treatment</text>
<text x="958" y="1267.7" font-size="20.8" font-weight="400" fill="#1b3a6a" stroke="#1b3a6a" stroke-width="0" stroke-linejoin="round" textLength="49.01" lengthAdjust="spacingAndGlyphs">$25 bn</text>
<text x="318.5" y="1219.4" font-size="20.4" font-weight="700" fill="#1b3a6a" stroke="#1b3a6a" stroke-width="0.25" stroke-linejoin="round" textLength="86.52" lengthAdjust="spacingAndGlyphs">Wastewater</text>
<text x="318.5" y="1243.7" font-size="20.4" font-weight="700" fill="#1b3a6a" stroke="#1b3a6a" stroke-width="0.25" stroke-linejoin="round" textLength="73.51" lengthAdjust="spacingAndGlyphs">treatment</text>
<text x="318.5" y="1267.3" font-size="20.8" font-weight="400" fill="#1b3a6a" stroke="#1b3a6a" stroke-width="0" stroke-linejoin="round" textLength="49.54" lengthAdjust="spacingAndGlyphs">$51 bn</text>
<text x="509.5" y="1219.4" font-size="20.4" font-weight="700" fill="#1b3a6a" stroke="#1b3a6a" stroke-width="0.25" stroke-linejoin="round" textLength="86.01" lengthAdjust="spacingAndGlyphs">Wastewater</text>
<text x="508.5" y="1243.7" font-size="20.4" font-weight="700" fill="#1b3a6a" stroke="#1b3a6a" stroke-width="0.25" stroke-linejoin="round" textLength="69.04" lengthAdjust="spacingAndGlyphs">networks</text>
<text x="509" y="1267.3" font-size="20.8" font-weight="400" fill="#1b3a6a" stroke="#1b3a6a" stroke-width="0" stroke-linejoin="round" textLength="49.03" lengthAdjust="spacingAndGlyphs">$75 bn</text>
<text x="698.5" y="1220" font-size="20.4" font-weight="700" fill="#1b3a6a" stroke="#1b3a6a" stroke-width="0.25" stroke-linejoin="round" textLength="150.52" lengthAdjust="spacingAndGlyphs">Seawater &amp; brackish</text>
<text x="699.5" y="1243.8" font-size="20.4" font-weight="700" fill="#1b3a6a" stroke="#1b3a6a" stroke-width="0.25" stroke-linejoin="round" textLength="138.01" lengthAdjust="spacingAndGlyphs">water desalination</text>
<text x="699.5" y="1267.5" font-size="20.8" font-weight="400" fill="#1b3a6a" stroke="#1b3a6a" stroke-width="0" stroke-linejoin="round" textLength="40.04" lengthAdjust="spacingAndGlyphs">$4 bn</text>
</svg>
</body></html>
